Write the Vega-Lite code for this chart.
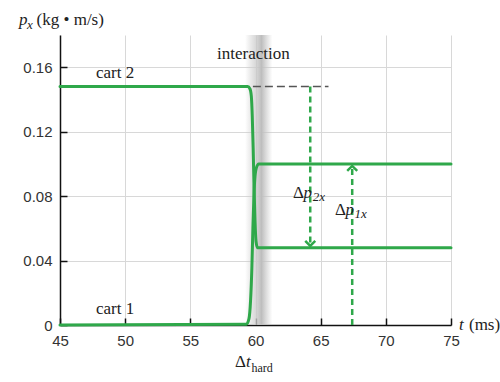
{
  "$schema": "https://vega.github.io/schema/vega-lite/v6.json",
  "width": 391,
  "height": 290,
  "autosize": "none",
  "padding": {"left": 60, "top": 35, "right": 49, "bottom": 57},
  "background": "white",
  "config": {"view": {"stroke": null}},
  "datasets": {
    "curves": [
      {"t": 45, "p": 0.148, "cart": "cart 2"},
      {"t": 59.4, "p": 0.148, "cart": "cart 2"},
      {"t": 59.58, "p": 0.1465, "cart": "cart 2"},
      {"t": 59.68, "p": 0.142, "cart": "cart 2"},
      {"t": 59.75, "p": 0.13, "cart": "cart 2"},
      {"t": 59.82, "p": 0.11, "cart": "cart 2"},
      {"t": 59.89, "p": 0.085, "cart": "cart 2"},
      {"t": 59.96, "p": 0.065, "cart": "cart 2"},
      {"t": 60.04, "p": 0.052, "cart": "cart 2"},
      {"t": 60.15, "p": 0.048, "cart": "cart 2"},
      {"t": 60.35, "p": 0.048, "cart": "cart 2"},
      {"t": 75, "p": 0.048, "cart": "cart 2"},
      {"t": 45, "p": 0, "cart": "cart 1"},
      {"t": 59.3, "p": 0.0005, "cart": "cart 1"},
      {"t": 59.5, "p": 0.004, "cart": "cart 1"},
      {"t": 59.62, "p": 0.015, "cart": "cart 1"},
      {"t": 59.72, "p": 0.035, "cart": "cart 1"},
      {"t": 59.8, "p": 0.06, "cart": "cart 1"},
      {"t": 59.87, "p": 0.078, "cart": "cart 1"},
      {"t": 59.94, "p": 0.09, "cart": "cart 1"},
      {"t": 60.05, "p": 0.097, "cart": "cart 1"},
      {"t": 60.25, "p": 0.1, "cart": "cart 1"},
      {"t": 75, "p": 0.1, "cart": "cart 1"}
    ],
    "band": [{"t0": 59.2, "t1": 61.3, "p0": 0, "p1": 0.18}],
    "refline": [{"t0": 59.8, "t1": 65.6, "p": 0.148}],
    "arrows": [
      {"t": 64.2, "p0": 0.148, "p1": 0.0495},
      {"t": 67.42, "p0": 0, "p1": 0.098}
    ],
    "headsDown": [{"t": 64.2, "p": 0.0503}],
    "headsUp": [{"t": 67.42, "p": 0.0975}],
    "textUpright": [
      {"t": 57.05, "p": 0.1651, "label": "interaction"},
      {"t": 47.76, "p": 0.1533, "label": "cart 2"},
      {"t": 47.76, "p": 0.00683, "label": "cart 1"},
      {"t": 43.2, "p": 0.1862, "label": "(kg • m/s)"},
      {"t": 76.38, "p": -0.0031, "label": "(ms)"},
      {"t": 62.88, "p": 0.0788, "label": "Δ"},
      {"t": 66.10, "p": 0.0683, "label": "Δ"},
      {"t": 58.42, "p": -0.0261, "label": "Δ"}
    ],
    "textItalic": [
      {"t": 41.85, "p": 0.1862, "label": "p"},
      {"t": 75.61, "p": -0.0031, "label": "t"},
      {"t": 63.69, "p": 0.0788, "label": "p"},
      {"t": 66.90, "p": 0.0683, "label": "p"},
      {"t": 59.27, "p": -0.0261, "label": "t"}
    ],
    "textSubItalic": [
      {"t": 42.47, "p": 0.1837, "label": "x"},
      {"t": 64.40, "p": 0.0770, "label": "2x"},
      {"t": 67.60, "p": 0.0664, "label": "1x"}
    ],
    "textSubUpright": [
      {"t": 59.69, "p": -0.0292, "label": "hard"}
    ]
  },
  "layer": [
    {
      "data": {"name": "band"},
      "mark": {
        "type": "rect",
        "fill": {
          "gradient": "linear",
          "x1": 0, "y1": 0, "x2": 1, "y2": 0,
          "stops": [
            {"offset": 0, "color": "rgba(200,200,200,0)"},
            {"offset": 0.35, "color": "rgba(205,205,205,0.7)"},
            {"offset": 0.6, "color": "rgba(190,190,190,1)"},
            {"offset": 1, "color": "rgba(200,200,200,0)"}
          ]
        }
      },
      "encoding": {
        "x": {
          "field": "t0", "type": "quantitative",
          "scale": {"domain": [45, 75], "nice": false, "zero": false},
          "axis": {
            "title": null,
            "values": [45, 47.5, 50, 52.5, 55, 57.5, 60, 62.5, 65, 67.5, 70, 72.5, 75],
            "labelExpr": "datum.value % 5 === 0 ? datum.label : ''",
            "grid": true,
            "gridColor": "#d8d8d8",
            "gridWidth": 1,
            "domainColor": "#111",
            "domainWidth": 1.5,
            "tickColor": "#111",
            "tickWidth": 1.5,
            "tickSize": -7,
            "tickOpacity": {"condition": {"test": "datum.value % 5 === 0", "value": 1}, "value": 0},
            "labelFont": "Liberation Sans",
            "labelFontSize": 15,
            "labelColor": "#333",
            "labelPadding": 15,
            "labelFlush": false
          }
        },
        "x2": {"field": "t1"},
        "y": {
          "field": "p0", "type": "quantitative",
          "scale": {"domain": [0, 0.18], "nice": false, "zero": true},
          "axis": {
            "title": null,
            "values": [0, 0.02, 0.04, 0.06, 0.08, 0.1, 0.12, 0.14, 0.16, 0.18],
            "labelExpr": "round(datum.value * 100) % 4 === 0 ? format(datum.value, '.2~f') : ''",
            "grid": true,
            "gridColor": "#d8d8d8",
            "gridWidth": 1,
            "domainColor": "#111",
            "domainWidth": 1.5,
            "tickColor": "#111",
            "tickWidth": 1.5,
            "tickSize": -7,
            "tickOpacity": {"condition": {"test": "round(datum.value * 100) % 4 === 0 && datum.value < 0.17", "value": 1}, "value": 0},
            "labelFont": "Liberation Sans",
            "labelFontSize": 15,
            "labelColor": "#333",
            "labelPadding": 15,
            "labelFlush": false
          }
        },
        "y2": {"field": "p1"}
      }
    },
    {
      "data": {"name": "refline"},
      "mark": {"type": "rule", "color": "#555", "strokeWidth": 1.5, "strokeDash": [8, 4]},
      "encoding": {
        "x": {"field": "t0", "type": "quantitative", "title": null},
        "x2": {"field": "t1"},
        "y": {"field": "p", "type": "quantitative", "title": null}
      }
    },
    {
      "data": {"name": "arrows"},
      "mark": {"type": "rule", "color": "#2fa84a", "strokeWidth": 2.5, "strokeDash": [6, 4]},
      "encoding": {
        "x": {"field": "t", "type": "quantitative", "title": null},
        "y": {"field": "p0", "type": "quantitative", "title": null},
        "y2": {"field": "p1"}
      }
    },
    {
      "data": {"name": "headsDown"},
      "mark": {"type": "point", "shape": "M-1,-0.6L0,0.4L1,-0.6", "size": 100, "filled": false, "color": "#2fa84a", "strokeWidth": 2.5, "opacity": 1},
      "encoding": {
        "x": {"field": "t", "type": "quantitative", "title": null},
        "y": {"field": "p", "type": "quantitative", "title": null}
      }
    },
    {
      "data": {"name": "headsUp"},
      "mark": {"type": "point", "shape": "M-1,0.6L0,-0.4L1,0.6", "size": 100, "filled": false, "color": "#2fa84a", "strokeWidth": 2.5, "opacity": 1},
      "encoding": {
        "x": {"field": "t", "type": "quantitative", "title": null},
        "y": {"field": "p", "type": "quantitative", "title": null}
      }
    },
    {
      "data": {"name": "curves"},
      "mark": {"type": "line", "color": "#2fa84a", "strokeWidth": 3, "interpolate": "monotone", "strokeCap": "round"},
      "encoding": {
        "x": {"field": "t", "type": "quantitative", "title": null},
        "y": {"field": "p", "type": "quantitative", "title": null},
        "detail": {"field": "cart", "type": "nominal"}
      }
    },
    {
      "data": {"name": "textUpright"},
      "mark": {"type": "text", "font": "Liberation Serif", "fontSize": 17, "color": "#222", "align": "left", "baseline": "alphabetic"},
      "encoding": {
        "x": {"field": "t", "type": "quantitative", "title": null},
        "y": {"field": "p", "type": "quantitative", "title": null},
        "text": {"field": "label", "type": "nominal"}
      }
    },
    {
      "data": {"name": "textItalic"},
      "mark": {"type": "text", "font": "Liberation Serif", "fontSize": 17, "fontStyle": "italic", "color": "#222", "align": "left", "baseline": "alphabetic"},
      "encoding": {
        "x": {"field": "t", "type": "quantitative", "title": null},
        "y": {"field": "p", "type": "quantitative", "title": null},
        "text": {"field": "label", "type": "nominal"}
      }
    },
    {
      "data": {"name": "textSubItalic"},
      "mark": {"type": "text", "font": "Liberation Serif", "fontSize": 13, "fontStyle": "italic", "color": "#222", "align": "left", "baseline": "alphabetic"},
      "encoding": {
        "x": {"field": "t", "type": "quantitative", "title": null},
        "y": {"field": "p", "type": "quantitative", "title": null},
        "text": {"field": "label", "type": "nominal"}
      }
    },
    {
      "data": {"name": "textSubUpright"},
      "mark": {"type": "text", "font": "Liberation Serif", "fontSize": 12, "color": "#222", "align": "left", "baseline": "alphabetic"},
      "encoding": {
        "x": {"field": "t", "type": "quantitative", "title": null},
        "y": {"field": "p", "type": "quantitative", "title": null},
        "text": {"field": "label", "type": "nominal"}
      }
    }
  ]
}
